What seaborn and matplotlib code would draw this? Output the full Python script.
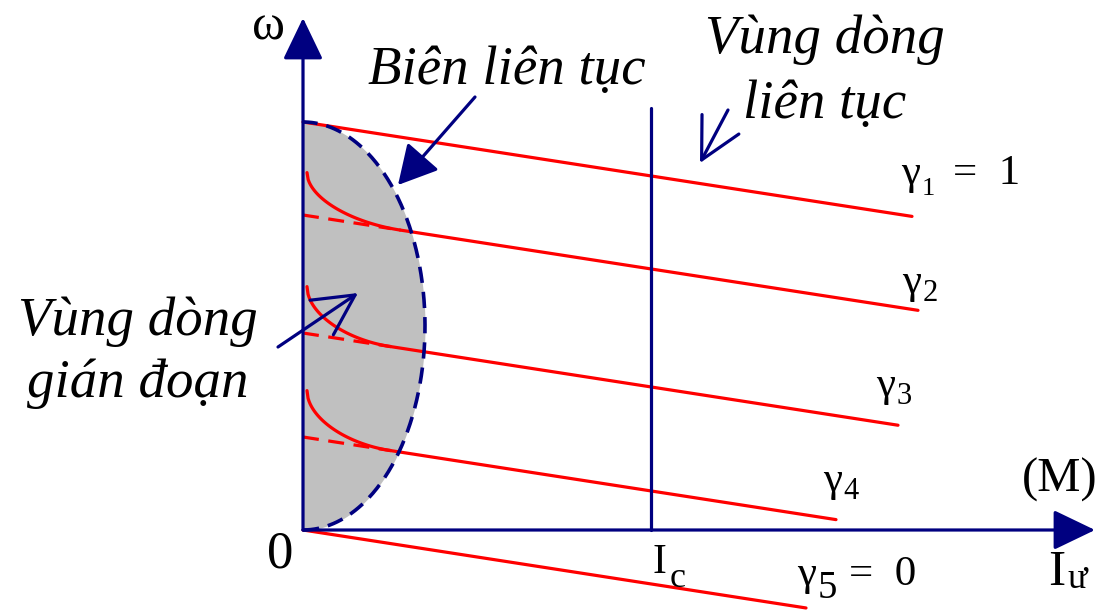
import numpy as np
import pandas as pd
import matplotlib
matplotlib.use("Agg")
import matplotlib.pyplot as plt
from matplotlib.patches import FancyArrowPatch
import seaborn as sns

# Speed-current characteristics omega = omega0 + slope * I for each firing ratio
gamma_ids = ["g1", "g2", "g3", "g4", "g5"]
gamma_subs = ["1", "2", "3", "4", "5"]
gamma_tails = ["=  1", "", "", "", "=  0"]
omega0 = [408, 315, 197, 93, 0]          # speed at zero current
line_slope = -0.155
line_start = [0, 97, 87, 87, 0]          # current where continuous conduction begins
line_end = [609, 615, 595, 533, 503]
disc_rise = [0, 43, 47, 47, 0]           # extra speed at the start of discontinuous conduction
dashed_end = 88

# Boundary of continuous conduction (half ellipse on the speed axis)
boundary_half_width = 122
boundary_top = 408

I_c = 348
I_c_top = 422
x_axis_end = 792
y_axis_end = 512

NAVY = "#000080"
RED = "#ff0000"

sns.set_theme(style="white")
plt.rcParams["font.family"] = ["Liberation Serif", "DejaVu Serif"]
plt.rcParams["text.color"] = "black"

fig = plt.figure(figsize=(11.11, 6.10), dpi=100)
ax = fig.add_axes([0, 0, 1, 1])
ax.set_xlim(-303, 808)
ax.set_ylim(-80, 530)
ax.axis("off")

# discontinuous-conduction region
theta = np.linspace(-np.pi / 2, np.pi / 2, 300)
b = boundary_top / 2
ex = boundary_half_width * np.cos(theta)
ey = b + b * np.sin(theta)
ax.fill_betweenx(ey, 0, ex, color="#c0c0c0", lw=0, zorder=1)

# straight (continuous conduction) parts of each characteristic
rows = []
for gid, w0, xs, xe in zip(gamma_ids, omega0, line_start, line_end):
    for xv in (xs, xe):
        rows.append({"gamma": gid, "I": xv, "omega": w0 + line_slope * xv})
df = pd.DataFrame(rows)
sns.lineplot(data=df, x="I", y="omega", units="gamma", estimator=None, sort=False,
             color=RED, lw=2.3, legend=False, ax=ax, zorder=3)

# discontinuous parts: curved rise plus dashed straight continuation
x0 = 4
for w0, xs, rise in zip(omega0, line_start, disc_rise):
    if rise == 0:
        continue
    xc = np.linspace(x0, xs, 80)
    t = (xc - x0) / (xs - x0)
    yc = w0 + line_slope * xc + rise * (1 - np.sqrt(1 - (1 - t) ** 2))
    ax.plot(xc, yc, color=RED, lw=2.3, zorder=3)
    xd = np.array([0, dashed_end])
    ax.plot(xd, w0 + line_slope * xd, color=RED, lw=2.3, ls=(0, (5, 3)), zorder=3)

# dashed boundary
ax.plot(ex, ey, color=NAVY, lw=2.6, ls=(0, (4.5, 2.5)), zorder=4)

# I_c line
ax.plot([I_c, I_c], [0, I_c_top], color=NAVY, lw=2.3, zorder=5)


def arrow(tail, tip, style, lw):
    p = FancyArrowPatch(tail, tip, arrowstyle=style, color=NAVY, lw=lw,
                        shrinkA=0, shrinkB=0, mutation_scale=1, zorder=6)
    ax.add_patch(p)


# axes with filled heads
arrow((0, 0), (x_axis_end, 0), "-|>,head_length=26,head_width=12.5", 2.3)
arrow((0, 0), (0, y_axis_end), "-|>,head_length=26,head_width=12.5", 2.3)

# pointer arrows
arrow((172, 433), (95, 345), "-|>,head_length=24,head_width=13", 2.3)
arrow((425, 420), (397, 367), "->,head_length=29,head_width=15", 2.3)
arrow((-25, 183), (55, 237), "->,head_length=29,head_width=15", 2.3)


def sub_label(x, y, main, sub, tail="", size=30, subsize=20, drop=6, gap=1, tail_gap=13):
    """Main symbol with a subscript and optional trailing text on the baseline."""
    t = ax.text(x, y, main, fontsize=size, color="black", ha="left", va="baseline", zorder=7)
    s = ax.annotate(sub, xy=(1, y), xycoords=(t, "data"), xytext=(gap, -drop),
                    textcoords="offset points", fontsize=subsize, color="black",
                    ha="left", va="baseline", zorder=7)
    if tail:
        ax.annotate(tail, xy=(1, y), xycoords=(s, "data"), xytext=(tail_gap, 0),
                    textcoords="offset points", fontsize=size, color="black",
                    ha="left", va="baseline", zorder=7)


# text
ax.text(-35, 491, "ω", fontsize=36, color="black", ha="center", va="baseline", zorder=7)
ax.text(-23, -38, "0", fontsize=38, color="black", ha="center", va="baseline", zorder=7)
ital = dict(fontsize=39.5, style="italic", color="black", ha="center", va="baseline", zorder=7)
ax.text(204, 446, "Biên liên tục", **ital)
ax.text(522, 477, "Vùng dòng", **ital)
ax.text(522, 412, "liên tục", **ital)
ax.text(-165, 195, "Vùng dòng", **ital)
ax.text(-165, 133, "gián đoạn", **ital)

gamma_pos = [(598, 346), (599, 237), (573, 134), (520, 39), (494, -55)]
gamma_subsize = [19, 22, 22, 22, 28]
gamma_drop = [8, 6, 6, 6, 9]
gamma_tail_gap = [13, 0, 0, 0, 9]
for (gx, gy), sub, tail, ss, dr, tg in zip(gamma_pos, gamma_subs, gamma_tails,
                                           gamma_subsize, gamma_drop, gamma_tail_gap):
    sub_label(gx, gy, "γ", sub, tail, size=31, subsize=ss, drop=dr, tail_gap=tg)

ax.text(719, 38, "(M)", fontsize=35, color="black", ha="left", va="baseline", zorder=7)
sub_label(350, -43, "I", "c", size=30, subsize=26, drop=10, gap=2)
sub_label(745, -55, "I", "ư", size=37, subsize=26, drop=2, gap=2)

fig.savefig("out.png", dpi=100)
